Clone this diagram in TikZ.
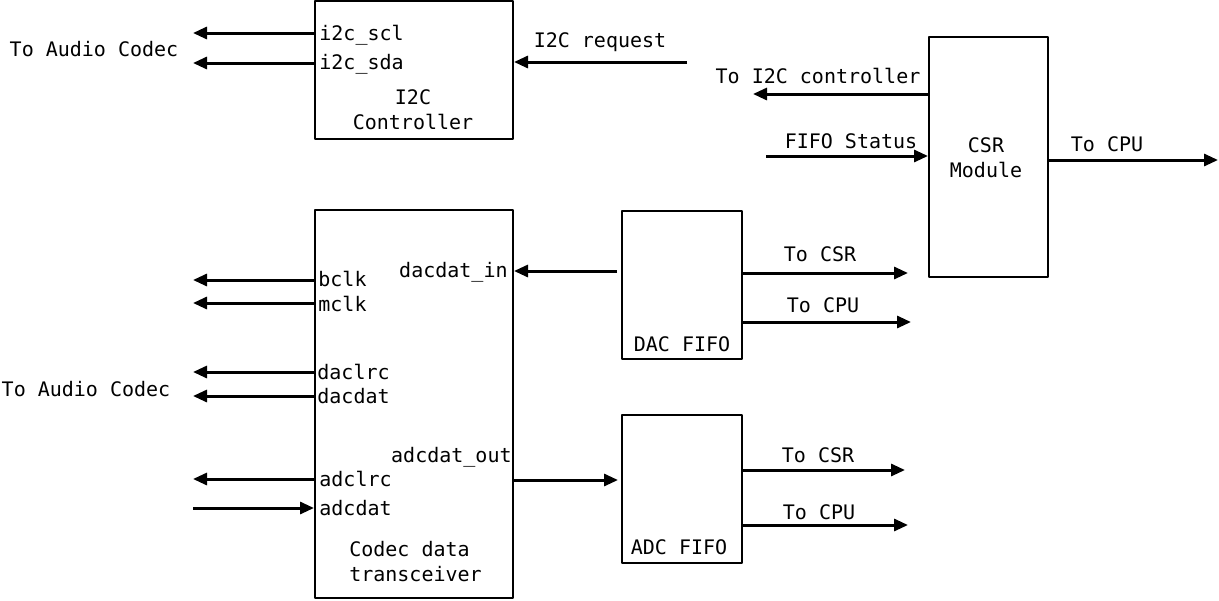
\documentclass[tikz,border=0pt]{standalone}
\usepackage{fontspec}
\setmonofont{DejaVu Sans Mono}
\usetikzlibrary{arrows.meta}
\begin{document}
\begin{tikzpicture}[x=0.5pt, y=-0.5pt, font=\ttfamily\fontsize{10}{12.5}\selectfont, line join=round, >={Triangle[length=7pt,width=6pt]}]
\tikzset{blk/.style={draw, line width=1pt, inner sep=0pt},
  pin/.style={inner sep=1pt, anchor=west},
  sig/.style={->, line width=1.5pt}}
\useasboundingbox (0,0) rectangle (1219,600);
% blocks
\node[blk, minimum width=99pt, minimum height=69pt] (i2c) at (414,70) {};
\node[blk, minimum width=59.5pt, minimum height=120pt] (csr) at (988.5,157) {};
\node[blk, minimum width=99pt, minimum height=194pt] (codec) at (414,404) {};
\node[blk, minimum width=60pt, minimum height=74pt] (dacf) at (682,285) {};
\node[blk, minimum width=60pt, minimum height=74pt] (adcf) at (682,489) {};
\node[align=center] (i2clbl) at (413,110) {I2C\\Controller};
\node[align=center] (csrlbl) at (986,158) {CSR\\Module};
\node[align=left] (codeclbl) at (415.5,562) {Codec data\\transceiver};
\node (daclbl) at (682,344) {DAC FIFO};
\node (adclbl) at (679,547) {ADC FIFO};
% i2c controller
\node[pin] (scl) at (317,35) {i2c\_scl};
\node[pin] (sda) at (317,64) {i2c\_sda};
\coordinate (sclout) at (193,33);
\coordinate (sdaout) at (193,63);
\draw[sig] (i2c.west|-sclout) -- (sclout);
\draw[sig] (i2c.west|-sdaout) -- (sdaout);
\node (codec1) at (94,49) {To Audio Codec};
\coordinate (reqin) at (687,62);
\draw[sig] (reqin) -- (i2c.east|-reqin);
\node (reqlbl) at (600,42) {I2C request};
% csr module
\coordinate (toi2c) at (753,94);
\draw[sig] (csr.west|-toi2c) -- (toi2c);
\node (toi2clbl) at (818,76) {To I2C controller};
\coordinate (fifost) at (766,156);
\draw[sig] (fifost) -- (csr.west|-fifost);
\node (fifolbl) at (851,141) {FIFO Status};
\coordinate (csrcpu) at (1218,160);
\draw[sig] (csr.east|-csrcpu) -- (csrcpu);
\node (csrcpulbl) at (1107,144) {To CPU};
% codec data transceiver
\node[pin] (bclk) at (316,279) {bclk};
\node[pin] (mclk) at (316,304) {mclk};
\node[pin] (daclrc) at (315,372) {daclrc};
\node[pin] (dacdat) at (315,396) {dacdat};
\node[pin] (adclrc) at (317,479) {adclrc};
\node[pin] (adcdat) at (317,508) {adcdat};
\node[pin, anchor=east] (dacin) at (510,272) {dacdat\_in};
\node[pin, anchor=east] (adcout) at (514,457) {adcdat\_out};
\coordinate (bclkout) at (193,280);
\coordinate (mclkout) at (193,303);
\coordinate (daclrcout) at (193,372);
\coordinate (dacdatout) at (193,396);
\coordinate (adclrcout) at (193,479);
\coordinate (adcdatin) at (193,508);
\draw[sig] (codec.west|-bclkout) -- (bclkout);
\draw[sig] (codec.west|-mclkout) -- (mclkout);
\draw[sig] (codec.west|-daclrcout) -- (daclrcout);
\draw[sig] (codec.west|-dacdatout) -- (dacdatout);
\draw[sig] (codec.west|-adclrcout) -- (adclrcout);
\draw[sig] (adcdatin) -- (codec.west|-adcdatin);
\node (codec2) at (86,389) {To Audio Codec};
\coordinate (dacsig) at (617,271);
\draw[sig] (dacsig) -- (codec.east|-dacsig);
\coordinate (adcsig) at (513,480);
\draw[sig, shorten >=1.5pt] (adcsig) -- (adcf.west|-adcsig);
% fifo outputs
\coordinate (dcsr) at (908,273);
\coordinate (dcpu) at (911,322);
\coordinate (acsr) at (905,470);
\coordinate (acpu) at (908,525);
\draw[sig] (dacf.east|-dcsr) -- (dcsr);
\draw[sig] (dacf.east|-dcpu) -- (dcpu);
\draw[sig] (adcf.east|-acsr) -- (acsr);
\draw[sig] (adcf.east|-acpu) -- (acpu);
\node (dcsrlbl) at (820,254) {To CSR};
\node (dcpulbl) at (823,305) {To CPU};
\node (acsrlbl) at (818,455) {To CSR};
\node (acpulbl) at (819,512) {To CPU};
\end{tikzpicture}
\end{document}
